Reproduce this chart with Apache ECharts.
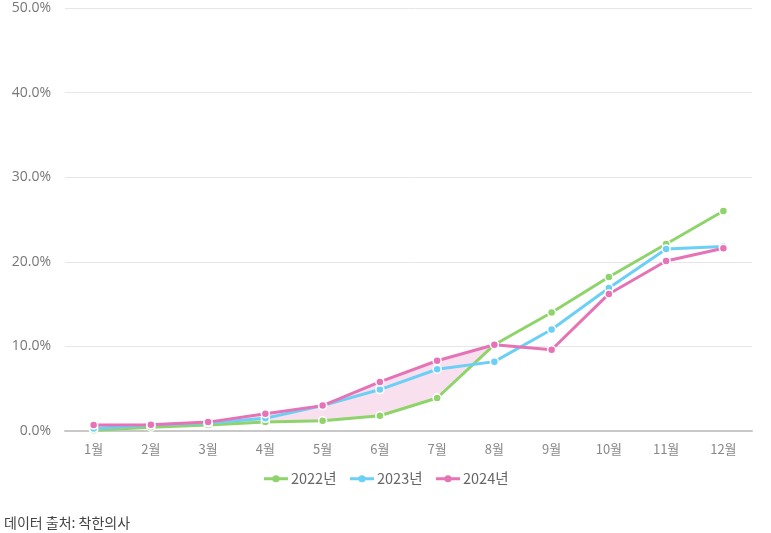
<!DOCTYPE html>
<html><head><meta charset="utf-8">
<script src="https://cdn.jsdelivr.net/npm/echarts@6/dist/echarts.min.js"></script>
<style>html,body{margin:0;padding:0;background:#fff}#c{width:771px;height:533px}</style>
</head><body><div id="c"></div>
<script>
const months = ['1월','2월','3월','4월','5월','6월','7월','8월','9월','10월','11월','12월'];
const yTicks = [0,10,20,30,40,50];
const s2022 = [0.1,0.45,0.7,1.05,1.2,1.8,3.9,10.2,14.0,18.2,22.1,26.0];
const s2023 = [0.3,0.7,0.95,1.5,3.0,4.9,7.3,8.2,12.0,16.9,21.5,21.8];
const s2024 = [0.7,0.75,1.05,2.05,3.0,5.8,8.3,10.2,9.6,16.2,20.1,21.6];
const names = ['2022년','2023년','2024년'];
const colors = ['#8ed46b','#6ccff5','#e673b6'];

const band = s2024.map((v,i)=>Math.max(0, v - s2022[i]));
const chart = echarts.init(document.getElementById('c'));
const fontF = '"Noto Sans CJK KR","Noto Sans",sans-serif';
function lineSeries(name, data, color){
  return {name, type:'line', data, z:5, symbol:'circle', symbolSize:8,
    lineStyle:{width:3,color}, itemStyle:{color, borderColor:'#fff', borderWidth:1.5}};
}
chart.setOption({
  animation:false,
  grid:{left:65,right:19,top:8,bottom:102},
  title:{text:'데이터 출처: 착한의사', left:-1, top:511, textStyle:{fontSize:14,fontWeight:'normal',color:'#444',fontFamily:fontF}},
  legend:{data:names, bottom:42, left:'center', itemWidth:24, itemHeight:9, itemGap:12,
    lineStyle:{width:3}, itemStyle:{borderWidth:0},
    textStyle:{fontSize:14.5,color:'#666',fontFamily:fontF,padding:[0,0,0,-2]}},
  xAxis:{type:'category', data:months, boundaryGap:true,
    axisLine:{lineStyle:{color:'#c8c8c8',width:2}}, axisTick:{show:false},
    axisLabel:{color:'#888',fontSize:13,margin:12,fontFamily:fontF}},
  yAxis:{type:'value', min:yTicks[0], max:yTicks[yTicks.length-1], interval:10,
    axisLine:{show:false}, axisTick:{show:false},
    splitLine:{lineStyle:{color:'#e6e6e6',width:1}},
    axisLabel:{color:'#777',fontSize:14,margin:14,fontFamily:'"Open Sans",sans-serif', formatter:v=>v.toFixed(1)+'%'}},
  series:[
    {name:'base', type:'line', data:s2022, stack:'band', symbol:'none', lineStyle:{opacity:0}, silent:true, z:1, legendHoverLink:false},
    {name:'fill', type:'line', data:band, stack:'band', symbol:'none', lineStyle:{opacity:0}, silent:true, z:1,
      areaStyle:{color:'rgba(228,110,175,0.3)'}},
    lineSeries(names[0], s2022, colors[0]),
    lineSeries(names[1], s2023, colors[1]),
    lineSeries(names[2], s2024, colors[2])
  ]
});
</script></body></html>
